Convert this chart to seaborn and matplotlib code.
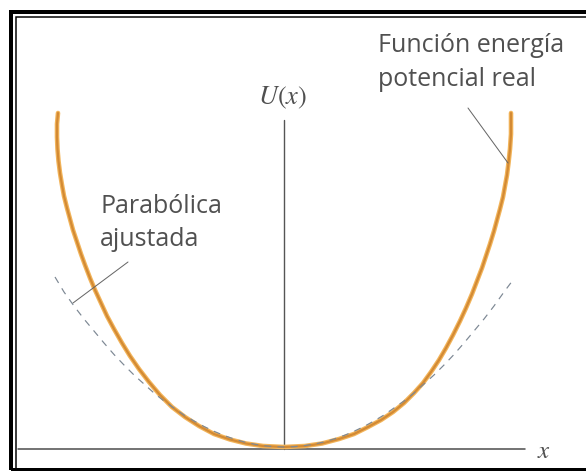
import numpy as np
import pandas as pd
import matplotlib
matplotlib.use("Agg")
import matplotlib.pyplot as plt
import seaborn as sns
from matplotlib.patches import Rectangle

# real potential curve, left top -> bottom -> right top
real_x = [-2.26, -2.27, -2.27, -2.265, -2.255, -2.24, -2.22, -2.20, -2.17, -2.14,
          -2.11, -2.07, -2.03, -1.99, -1.94, -1.89, -1.83, -1.77, -1.70, -1.62,
          -1.54, -1.45, -1.35, -1.24, -1.12, -0.99, -0.85, -0.70, -0.54, -0.38,
          -0.21, 0.00,
          0.21, 0.38, 0.55, 0.70, 0.84, 0.97, 1.09, 1.20, 1.30, 1.39,
          1.47, 1.55, 1.62, 1.69, 1.76, 1.82, 1.88, 1.93, 1.98, 2.02,
          2.06, 2.10, 2.13, 2.16, 2.19, 2.21, 2.23, 2.245, 2.26, 2.27, 2.27]
real_u = [3.36, 3.25, 3.12, 3.00, 2.88, 2.76, 2.64, 2.53, 2.41, 2.30,
          2.19, 2.07, 1.95, 1.84, 1.71, 1.59, 1.46, 1.33, 1.20, 1.06,
          0.93, 0.80, 0.67, 0.54, 0.42, 0.32, 0.23, 0.15, 0.095, 0.055,
          0.03, 0.02,
          0.03, 0.055, 0.10, 0.15, 0.22, 0.29, 0.37, 0.46, 0.56, 0.66,
          0.77, 0.89, 1.01, 1.14, 1.28, 1.41, 1.55, 1.68, 1.81, 1.93,
          2.05, 2.18, 2.29, 2.40, 2.52, 2.63, 2.74, 2.86, 3.00, 3.15, 3.36]

# fitted parabola (dashed)
par_x = [-2.29, -2.20, -2.10, -2.00, -1.90, -1.80, -1.70, -1.60, -1.50, -1.40,
         -1.30, -1.20, -1.10, -1.00, -0.90, -0.80, -0.70, -0.60, -0.50, -0.40,
         -0.30, -0.20, -0.10, 0.00, 0.10, 0.20, 0.30, 0.40, 0.50, 0.60,
         0.70, 0.80, 0.90, 1.00, 1.10, 1.20, 1.30, 1.40, 1.50, 1.60,
         1.70, 1.80, 1.90, 2.00, 2.10, 2.20, 2.29]
par_u = [1.72, 1.57, 1.43, 1.30, 1.18, 1.06, 0.945, 0.84, 0.74, 0.65,
         0.56, 0.48, 0.41, 0.34, 0.28, 0.225, 0.177, 0.135, 0.10, 0.071,
         0.049, 0.033, 0.023, 0.02, 0.023, 0.033, 0.049, 0.071, 0.10, 0.135,
         0.177, 0.225, 0.28, 0.34, 0.41, 0.48, 0.56, 0.65, 0.74, 0.84,
         0.945, 1.06, 1.18, 1.30, 1.43, 1.57, 1.69]

real_df = pd.DataFrame({"x": real_x, "U": real_u})
par_df = pd.DataFrame({"x": par_x, "U": par_u})

sns.set_theme(style="white")
plt.rcParams["font.family"] = ["Open Sans", "DejaVu Sans"]
plt.rcParams["mathtext.fontset"] = "stix"
plt.rcParams["lines.scale_dashes"] = False

W, H = 586, 471
PX = 0.72  # points per pixel at dpi 100

fig = plt.figure(figsize=(W / 100, H / 100), dpi=100)
fig.patch.set_facecolor("white")
ax = fig.add_axes([0, 0, 1, 1])
ax.set_xlim(-2.84, 3.02)
ax.set_ylim(-0.22, 4.49)
ax.axis("off")

AXC = "#555555"
TXT = "#505050"

# coordinate axes
sns.lineplot(x=[-2.66, 2.41], y=[0, 0], color=AXC, lw=1.6 * PX, ax=ax)
sns.lineplot(x=[0, 0], y=[0, 3.29], color=AXC, lw=1.4 * PX, ax=ax, orient="y")

# real potential
sns.lineplot(data=real_df, x="x", y="U", sort=False, estimator=None,
             color="#f2b45a", lw=4.6 * PX, ax=ax, zorder=3)
sns.lineplot(data=real_df, x="x", y="U", sort=False, estimator=None,
             color="#d38a34", lw=2.2 * PX, ax=ax, zorder=4)

# parabola
sns.lineplot(data=par_df, x="x", y="U", sort=False, estimator=None,
             color="#7d8894", lw=1.2 * PX, ax=ax, zorder=5,
             linestyle=(0, (5.0, 4.5)))

# leader lines
ax.plot([1.84, 2.24], [3.41, 2.86], color="#666666", lw=1.0 * PX, zorder=6)
ax.plot([-1.56, -2.11], [1.87, 1.46], color="#666666", lw=1.0 * PX, zorder=6)

# labels
ax.text(-0.01, 3.51, r"$U(x)$", fontsize=19, color=TXT, ha="center", va="center")
ax.text(2.60, -0.02, r"$x$", fontsize=18, color=TXT, ha="center", va="center")

def px(x, y):
    return x / W, 1 - y / H

fig.text(*px(378, 52), "Función energía", fontsize=18, color=TXT, va="baseline")
fig.text(*px(378, 86), "potencial real", fontsize=18, color=TXT, va="baseline")
fig.text(*px(100, 213), "Parabólica", fontsize=18, color=TXT, va="baseline")
fig.text(*px(100, 246), "ajustada", fontsize=18, color=TXT, va="baseline")

# double frame
x0, y0 = px(11, 470)
x1, y1 = px(620, 12)
fig.add_artist(Rectangle((x0, y0), x1 - x0, y1 - y0, transform=fig.transFigure,
                         fill=False, ec="black", lw=4 * PX))
x0, y0 = px(15.5, 520)
x1, y1 = px(620, 16.5)
fig.add_artist(Rectangle((x0, y0), x1 - x0, y1 - y0, transform=fig.transFigure,
                         fill=False, ec="black", lw=1.5 * PX))

fig.savefig("out.png", dpi=100)
